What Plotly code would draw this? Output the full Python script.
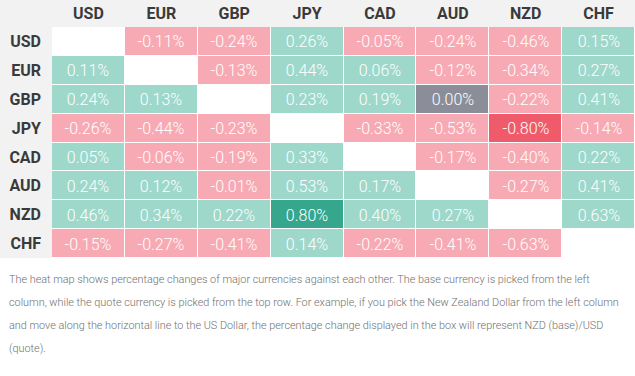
import plotly.graph_objects as go

currencies = ["USD", "EUR", "GBP", "JPY", "CAD", "AUD", "NZD", "CHF"]

usd_row = [None, -0.11, -0.24, 0.26, -0.05, -0.24, -0.46, 0.15]
eur_row = [0.11, None, -0.13, 0.44, 0.06, -0.12, -0.34, 0.27]
gbp_row = [0.24, 0.13, None, 0.23, 0.19, 0.00, -0.22, 0.41]
jpy_row = [-0.26, -0.44, -0.23, None, -0.33, -0.53, -0.80, -0.14]
cad_row = [0.05, -0.06, -0.19, 0.33, None, -0.17, -0.40, 0.22]
aud_row = [0.24, 0.12, -0.01, 0.53, 0.17, None, -0.27, 0.41]
nzd_row = [0.46, 0.34, 0.22, 0.80, 0.40, 0.27, None, 0.63]
chf_row = [-0.15, -0.27, -0.41, 0.14, -0.22, -0.41, -0.63, None]

caption_lines = [
    "The heat map shows percentage changes of major currencies against each other. The base currency is picked from the left",
    "column, while the quote currency is picked from the top row. For example, if you pick the New Zealand Dollar from the left column",
    "and move along the horizontal line to the US Dollar, the percentage change displayed in the box will represent NZD (base)/USD",
    "(quote).",
]

z = [usd_row, eur_row, gbp_row, jpy_row, cad_row, aud_row, nzd_row, chf_row]
text = [["" if v is None else f"{v:.2f}%" for v in row] for row in z]

RED = "#f05b6b"
PINK = "#f8aab4"
GRAY = "#8b8e98"
GREEN = "#9ed8cb"
DARK = "#36a68d"
colorscale = [
    [0.0, RED], [0.01, RED],
    [0.01, PINK], [0.495, PINK],
    [0.495, GRAY], [0.505, GRAY],
    [0.505, GREEN], [0.99, GREEN],
    [0.99, DARK], [1.0, DARK],
]

W, H = 635, 376
ML, MT, MB = 52, 27, 118
plot_w = W - ML
plot_h = H - MT - MB

fig = go.Figure(go.Heatmap(
    z=z, x=currencies, y=currencies,
    text=text, texttemplate="%{text}",
    textfont=dict(family="Roboto", size=16, color="white", weight=300),
    colorscale=colorscale, zmin=-0.8, zmax=0.8,
    showscale=False, xgap=1, ygap=1, hoverinfo="skip",
))

shapes = [
    dict(type="rect", xref="paper", yref="paper", x0=-0.2, x1=0, y0=0, y1=1.3,
         fillcolor="#f2f2f2", line_width=0, layer="below"),
    dict(type="rect", xref="paper", yref="paper", x0=-0.2, x1=1.1, y0=1, y1=1.3,
         fillcolor="#f2f2f2", line_width=0, layer="below"),
]

annotations = []
for i, line in enumerate(caption_lines):
    ypx = 279 + 23.3 * i
    annotations.append(dict(
        text=line, xref="paper", yref="paper",
        x=(7 - ML) / plot_w, y=-(ypx - (MT + plot_h)) / plot_h,
        xanchor="left", yanchor="middle", showarrow=False,
        font=dict(family="Roboto", size=10.85, color="#707070", weight=300),
    ))

fig.update_layout(
    width=W, height=H,
    margin=dict(l=ML, r=0, t=MT, b=MB, pad=0),
    paper_bgcolor="white", plot_bgcolor="white",
    shapes=shapes, annotations=annotations,
    xaxis=dict(side="top", showgrid=False, zeroline=False, ticks="",
               tickfont=dict(family="Roboto", size=16, color="#3a3a3a", weight=700),
               ticklabelstandoff=4, fixedrange=True),
    yaxis=dict(autorange="reversed", showgrid=False, zeroline=False, ticks="",
               tickfont=dict(family="Roboto", size=16, color="#3a3a3a", weight=700),
               ticklabelstandoff=10, fixedrange=True),
)

fig.write_html("out.html", config={"displayModeBar": False},
               post_script="document.body.style.margin='0';document.body.style.overflow='hidden';")
